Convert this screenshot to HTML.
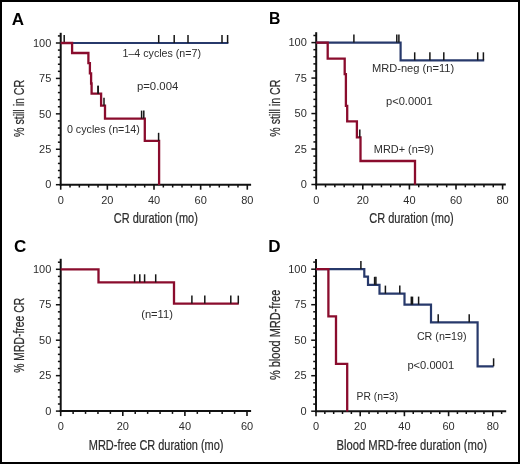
<!DOCTYPE html>
<html><head><meta charset="utf-8"><style>
html,body{margin:0;padding:0;background:#fff;}
body{width:520px;height:464px;overflow:hidden;}
svg{display:block;will-change:transform;}
text{font-family:"Liberation Sans",sans-serif;}
.tl{font-size:11px;fill:#2d2d2d;}
.an{font-size:10.7px;fill:#2d2d2d;}
.tt{font-size:14.2px;fill:#2d2d2d;stroke:#2d2d2d;stroke-width:0.22px;}
.pl{font-size:17px;font-weight:bold;fill:#000;}
</style></head><body>
<svg width="520" height="464" viewBox="0 0 520 464">
<rect x="0" y="0" width="520" height="464" fill="#fff"/>
<line x1="60.7" y1="32.8" x2="60.7" y2="185.7" stroke="#111111" stroke-width="2"/>
<line x1="59.7" y1="184.7" x2="251.1" y2="184.7" stroke="#111111" stroke-width="2"/>
<line x1="55.9" y1="184.7" x2="60.7" y2="184.7" stroke="#111111" stroke-width="1.5"/>
<text x="51.3" y="188.4" class="tl" text-anchor="end">0</text>
<line x1="57.9" y1="177.61" x2="60.7" y2="177.61" stroke="#111111" stroke-width="1.5"/>
<line x1="57.9" y1="170.53" x2="60.7" y2="170.53" stroke="#111111" stroke-width="1.5"/>
<line x1="57.9" y1="163.44" x2="60.7" y2="163.44" stroke="#111111" stroke-width="1.5"/>
<line x1="57.9" y1="156.36" x2="60.7" y2="156.36" stroke="#111111" stroke-width="1.5"/>
<line x1="55.9" y1="149.27" x2="60.7" y2="149.27" stroke="#111111" stroke-width="1.5"/>
<text x="51.3" y="152.97" class="tl" text-anchor="end">25</text>
<line x1="57.9" y1="142.19" x2="60.7" y2="142.19" stroke="#111111" stroke-width="1.5"/>
<line x1="57.9" y1="135.1" x2="60.7" y2="135.1" stroke="#111111" stroke-width="1.5"/>
<line x1="57.9" y1="128.02" x2="60.7" y2="128.02" stroke="#111111" stroke-width="1.5"/>
<line x1="57.9" y1="120.94" x2="60.7" y2="120.94" stroke="#111111" stroke-width="1.5"/>
<line x1="55.9" y1="113.85" x2="60.7" y2="113.85" stroke="#111111" stroke-width="1.5"/>
<text x="51.3" y="117.55" class="tl" text-anchor="end">50</text>
<line x1="57.9" y1="106.77" x2="60.7" y2="106.77" stroke="#111111" stroke-width="1.5"/>
<line x1="57.9" y1="99.68" x2="60.7" y2="99.68" stroke="#111111" stroke-width="1.5"/>
<line x1="57.9" y1="92.59" x2="60.7" y2="92.59" stroke="#111111" stroke-width="1.5"/>
<line x1="57.9" y1="85.51" x2="60.7" y2="85.51" stroke="#111111" stroke-width="1.5"/>
<line x1="55.9" y1="78.42" x2="60.7" y2="78.42" stroke="#111111" stroke-width="1.5"/>
<text x="51.3" y="82.12" class="tl" text-anchor="end">75</text>
<line x1="57.9" y1="71.34" x2="60.7" y2="71.34" stroke="#111111" stroke-width="1.5"/>
<line x1="57.9" y1="64.26" x2="60.7" y2="64.26" stroke="#111111" stroke-width="1.5"/>
<line x1="57.9" y1="57.17" x2="60.7" y2="57.17" stroke="#111111" stroke-width="1.5"/>
<line x1="57.9" y1="50.09" x2="60.7" y2="50.09" stroke="#111111" stroke-width="1.5"/>
<line x1="55.9" y1="43" x2="60.7" y2="43" stroke="#111111" stroke-width="1.5"/>
<text x="51.3" y="46.7" class="tl" text-anchor="end">100</text>
<line x1="57.9" y1="35.92" x2="60.7" y2="35.92" stroke="#111111" stroke-width="1.5"/>
<line x1="60.7" y1="184.7" x2="60.7" y2="189.7" stroke="#111111" stroke-width="1.6"/>
<text x="60.7" y="203.7" class="tl" text-anchor="middle">0</text>
<line x1="70.03" y1="184.7" x2="70.03" y2="187.5" stroke="#111111" stroke-width="1.5"/>
<line x1="79.36" y1="184.7" x2="79.36" y2="187.5" stroke="#111111" stroke-width="1.5"/>
<line x1="88.69" y1="184.7" x2="88.69" y2="187.5" stroke="#111111" stroke-width="1.5"/>
<line x1="98.02" y1="184.7" x2="98.02" y2="187.5" stroke="#111111" stroke-width="1.5"/>
<line x1="107.35" y1="184.7" x2="107.35" y2="189.7" stroke="#111111" stroke-width="1.6"/>
<text x="107.35" y="203.7" class="tl" text-anchor="middle">20</text>
<line x1="116.68" y1="184.7" x2="116.68" y2="187.5" stroke="#111111" stroke-width="1.5"/>
<line x1="126.01" y1="184.7" x2="126.01" y2="187.5" stroke="#111111" stroke-width="1.5"/>
<line x1="135.34" y1="184.7" x2="135.34" y2="187.5" stroke="#111111" stroke-width="1.5"/>
<line x1="144.67" y1="184.7" x2="144.67" y2="187.5" stroke="#111111" stroke-width="1.5"/>
<line x1="154" y1="184.7" x2="154" y2="189.7" stroke="#111111" stroke-width="1.6"/>
<text x="154" y="203.7" class="tl" text-anchor="middle">40</text>
<line x1="163.33" y1="184.7" x2="163.33" y2="187.5" stroke="#111111" stroke-width="1.5"/>
<line x1="172.66" y1="184.7" x2="172.66" y2="187.5" stroke="#111111" stroke-width="1.5"/>
<line x1="181.99" y1="184.7" x2="181.99" y2="187.5" stroke="#111111" stroke-width="1.5"/>
<line x1="191.32" y1="184.7" x2="191.32" y2="187.5" stroke="#111111" stroke-width="1.5"/>
<line x1="200.65" y1="184.7" x2="200.65" y2="189.7" stroke="#111111" stroke-width="1.6"/>
<text x="200.65" y="203.7" class="tl" text-anchor="middle">60</text>
<line x1="209.98" y1="184.7" x2="209.98" y2="187.5" stroke="#111111" stroke-width="1.5"/>
<line x1="219.31" y1="184.7" x2="219.31" y2="187.5" stroke="#111111" stroke-width="1.5"/>
<line x1="228.64" y1="184.7" x2="228.64" y2="187.5" stroke="#111111" stroke-width="1.5"/>
<line x1="237.97" y1="184.7" x2="237.97" y2="187.5" stroke="#111111" stroke-width="1.5"/>
<line x1="247.3" y1="184.7" x2="247.3" y2="189.7" stroke="#111111" stroke-width="1.6"/>
<text x="247.3" y="203.7" class="tl" text-anchor="middle">80</text>
<path d="M60.7 43 H228.4" fill="none" stroke="#27396b" stroke-width="2.2" stroke-linejoin="miter" stroke-linecap="butt"/>
<line x1="64.2" y1="35" x2="64.2" y2="43" stroke="#161616" stroke-width="1.5"/>
<line x1="158.7" y1="35" x2="158.7" y2="43" stroke="#161616" stroke-width="1.5"/>
<line x1="174.2" y1="35" x2="174.2" y2="43" stroke="#161616" stroke-width="1.5"/>
<line x1="188" y1="35" x2="188" y2="43" stroke="#161616" stroke-width="1.5"/>
<line x1="222" y1="35" x2="222" y2="43" stroke="#161616" stroke-width="1.5"/>
<line x1="227.6" y1="35" x2="227.6" y2="43" stroke="#161616" stroke-width="1.5"/>
<path d="M60.7 43 H72.1 V53 H88.4 V63.2 H89.9 V73.4 H91.1 V83.5 H91.6 V93.7 H101.1 V105.7 H105 V118.6 H144.8 V140.8 H159.1 V185" fill="none" stroke="#8a0c2d" stroke-width="2.3" stroke-linejoin="miter" stroke-linecap="butt"/>
<line x1="98.1" y1="85.7" x2="98.1" y2="93.7" stroke="#161616" stroke-width="1.5"/>
<line x1="98.1" y1="85.7" x2="98.1" y2="93.7" stroke="#161616" stroke-width="1.5"/>
<line x1="104" y1="97.7" x2="104" y2="105.7" stroke="#161616" stroke-width="1.5"/>
<line x1="141.6" y1="110.6" x2="141.6" y2="118.6" stroke="#161616" stroke-width="1.5"/>
<line x1="143.8" y1="110.6" x2="143.8" y2="118.6" stroke="#161616" stroke-width="1.5"/>
<line x1="158.6" y1="132.8" x2="158.6" y2="140.8" stroke="#161616" stroke-width="1.5"/>
<text x="11.8" y="24.5" class="pl" text-anchor="start">A</text>
<text x="122.5" y="56.9" class="an" text-anchor="start" textLength="78.5" lengthAdjust="spacingAndGlyphs">1–4 cycles (n=7)</text>
<text x="136.9" y="90.4" class="an" text-anchor="start" textLength="41.4" lengthAdjust="spacingAndGlyphs">p=0.004</text>
<text x="66.9" y="133.2" class="an" text-anchor="start" textLength="73" lengthAdjust="spacingAndGlyphs">0 cycles (n=14)</text>
<text x="113.8" y="223.3" class="tt" text-anchor="start" textLength="84" lengthAdjust="spacingAndGlyphs">CR duration (mo)</text>
<text transform="translate(24,108.4) rotate(-90)" x="0" y="0" class="tt" text-anchor="middle" textLength="57.2" lengthAdjust="spacingAndGlyphs">% still in CR</text>
<line x1="316.2" y1="32.2" x2="316.2" y2="185.5" stroke="#111111" stroke-width="2"/>
<line x1="315.2" y1="184.5" x2="505.8" y2="184.5" stroke="#111111" stroke-width="2"/>
<line x1="311.4" y1="184.5" x2="316.2" y2="184.5" stroke="#111111" stroke-width="1.5"/>
<text x="306.8" y="188.2" class="tl" text-anchor="end">0</text>
<line x1="313.4" y1="177.41" x2="316.2" y2="177.41" stroke="#111111" stroke-width="1.5"/>
<line x1="313.4" y1="170.31" x2="316.2" y2="170.31" stroke="#111111" stroke-width="1.5"/>
<line x1="313.4" y1="163.22" x2="316.2" y2="163.22" stroke="#111111" stroke-width="1.5"/>
<line x1="313.4" y1="156.12" x2="316.2" y2="156.12" stroke="#111111" stroke-width="1.5"/>
<line x1="311.4" y1="149.03" x2="316.2" y2="149.03" stroke="#111111" stroke-width="1.5"/>
<text x="306.8" y="152.72" class="tl" text-anchor="end">25</text>
<line x1="313.4" y1="141.93" x2="316.2" y2="141.93" stroke="#111111" stroke-width="1.5"/>
<line x1="313.4" y1="134.84" x2="316.2" y2="134.84" stroke="#111111" stroke-width="1.5"/>
<line x1="313.4" y1="127.74" x2="316.2" y2="127.74" stroke="#111111" stroke-width="1.5"/>
<line x1="313.4" y1="120.64" x2="316.2" y2="120.64" stroke="#111111" stroke-width="1.5"/>
<line x1="311.4" y1="113.55" x2="316.2" y2="113.55" stroke="#111111" stroke-width="1.5"/>
<text x="306.8" y="117.25" class="tl" text-anchor="end">50</text>
<line x1="313.4" y1="106.45" x2="316.2" y2="106.45" stroke="#111111" stroke-width="1.5"/>
<line x1="313.4" y1="99.36" x2="316.2" y2="99.36" stroke="#111111" stroke-width="1.5"/>
<line x1="313.4" y1="92.27" x2="316.2" y2="92.27" stroke="#111111" stroke-width="1.5"/>
<line x1="313.4" y1="85.17" x2="316.2" y2="85.17" stroke="#111111" stroke-width="1.5"/>
<line x1="311.4" y1="78.08" x2="316.2" y2="78.08" stroke="#111111" stroke-width="1.5"/>
<text x="306.8" y="81.78" class="tl" text-anchor="end">75</text>
<line x1="313.4" y1="70.98" x2="316.2" y2="70.98" stroke="#111111" stroke-width="1.5"/>
<line x1="313.4" y1="63.88" x2="316.2" y2="63.88" stroke="#111111" stroke-width="1.5"/>
<line x1="313.4" y1="56.79" x2="316.2" y2="56.79" stroke="#111111" stroke-width="1.5"/>
<line x1="313.4" y1="49.69" x2="316.2" y2="49.69" stroke="#111111" stroke-width="1.5"/>
<line x1="311.4" y1="42.6" x2="316.2" y2="42.6" stroke="#111111" stroke-width="1.5"/>
<text x="306.8" y="46.3" class="tl" text-anchor="end">100</text>
<line x1="313.4" y1="35.5" x2="316.2" y2="35.5" stroke="#111111" stroke-width="1.5"/>
<line x1="316.2" y1="184.5" x2="316.2" y2="189.5" stroke="#111111" stroke-width="1.6"/>
<text x="316.2" y="203.5" class="tl" text-anchor="middle">0</text>
<line x1="325.52" y1="184.5" x2="325.52" y2="187.3" stroke="#111111" stroke-width="1.5"/>
<line x1="334.84" y1="184.5" x2="334.84" y2="187.3" stroke="#111111" stroke-width="1.5"/>
<line x1="344.16" y1="184.5" x2="344.16" y2="187.3" stroke="#111111" stroke-width="1.5"/>
<line x1="353.48" y1="184.5" x2="353.48" y2="187.3" stroke="#111111" stroke-width="1.5"/>
<line x1="362.8" y1="184.5" x2="362.8" y2="189.5" stroke="#111111" stroke-width="1.6"/>
<text x="362.8" y="203.5" class="tl" text-anchor="middle">20</text>
<line x1="372.12" y1="184.5" x2="372.12" y2="187.3" stroke="#111111" stroke-width="1.5"/>
<line x1="381.44" y1="184.5" x2="381.44" y2="187.3" stroke="#111111" stroke-width="1.5"/>
<line x1="390.76" y1="184.5" x2="390.76" y2="187.3" stroke="#111111" stroke-width="1.5"/>
<line x1="400.08" y1="184.5" x2="400.08" y2="187.3" stroke="#111111" stroke-width="1.5"/>
<line x1="409.4" y1="184.5" x2="409.4" y2="189.5" stroke="#111111" stroke-width="1.6"/>
<text x="409.4" y="203.5" class="tl" text-anchor="middle">40</text>
<line x1="418.72" y1="184.5" x2="418.72" y2="187.3" stroke="#111111" stroke-width="1.5"/>
<line x1="428.04" y1="184.5" x2="428.04" y2="187.3" stroke="#111111" stroke-width="1.5"/>
<line x1="437.36" y1="184.5" x2="437.36" y2="187.3" stroke="#111111" stroke-width="1.5"/>
<line x1="446.68" y1="184.5" x2="446.68" y2="187.3" stroke="#111111" stroke-width="1.5"/>
<line x1="456" y1="184.5" x2="456" y2="189.5" stroke="#111111" stroke-width="1.6"/>
<text x="456" y="203.5" class="tl" text-anchor="middle">60</text>
<line x1="465.32" y1="184.5" x2="465.32" y2="187.3" stroke="#111111" stroke-width="1.5"/>
<line x1="474.64" y1="184.5" x2="474.64" y2="187.3" stroke="#111111" stroke-width="1.5"/>
<line x1="483.96" y1="184.5" x2="483.96" y2="187.3" stroke="#111111" stroke-width="1.5"/>
<line x1="493.28" y1="184.5" x2="493.28" y2="187.3" stroke="#111111" stroke-width="1.5"/>
<line x1="502.6" y1="184.5" x2="502.6" y2="189.5" stroke="#111111" stroke-width="1.6"/>
<text x="502.6" y="203.5" class="tl" text-anchor="middle">80</text>
<path d="M316.2 42.6 H400.6 V60.3 H484.2" fill="none" stroke="#27396b" stroke-width="2.2" stroke-linejoin="miter" stroke-linecap="butt"/>
<line x1="353.9" y1="34.6" x2="353.9" y2="42.6" stroke="#161616" stroke-width="1.5"/>
<line x1="396.8" y1="34.6" x2="396.8" y2="42.6" stroke="#161616" stroke-width="1.5"/>
<line x1="398.9" y1="34.6" x2="398.9" y2="42.6" stroke="#161616" stroke-width="1.5"/>
<line x1="414.7" y1="52.3" x2="414.7" y2="60.3" stroke="#161616" stroke-width="1.5"/>
<line x1="429.9" y1="52.3" x2="429.9" y2="60.3" stroke="#161616" stroke-width="1.5"/>
<line x1="443.8" y1="52.3" x2="443.8" y2="60.3" stroke="#161616" stroke-width="1.5"/>
<line x1="477.7" y1="52.3" x2="477.7" y2="60.3" stroke="#161616" stroke-width="1.5"/>
<line x1="483.4" y1="52.3" x2="483.4" y2="60.3" stroke="#161616" stroke-width="1.5"/>
<path d="M316.2 42.6 H327.7 V58.7 H344.7 V74.2 H345.9 V105.8 H347.2 V121.4 H356.9 V137.4 H360.5 V161 H415 V184.8" fill="none" stroke="#8a0c2d" stroke-width="2.3" stroke-linejoin="miter" stroke-linecap="butt"/>
<line x1="359.8" y1="129.4" x2="359.8" y2="137.4" stroke="#161616" stroke-width="1.5"/>
<text x="268.9" y="23.6" class="pl" text-anchor="start" textLength="11.4" lengthAdjust="spacingAndGlyphs">B</text>
<text x="371.9" y="71.9" class="an" text-anchor="start" textLength="82.3" lengthAdjust="spacingAndGlyphs">MRD-neg (n=11)</text>
<text x="386" y="104.6" class="an" text-anchor="start" textLength="46.7" lengthAdjust="spacingAndGlyphs">p&lt;0.0001</text>
<text x="373.8" y="153.4" class="an" text-anchor="start" textLength="60" lengthAdjust="spacingAndGlyphs">MRD+ (n=9)</text>
<text x="369.2" y="223.3" class="tt" text-anchor="start" textLength="84.5" lengthAdjust="spacingAndGlyphs">CR duration (mo)</text>
<text transform="translate(279.6,108.2) rotate(-90)" x="0" y="0" class="tt" text-anchor="middle" textLength="57" lengthAdjust="spacingAndGlyphs">% still in CR</text>
<line x1="60.7" y1="258.8" x2="60.7" y2="412.1" stroke="#111111" stroke-width="2"/>
<line x1="59.7" y1="411.1" x2="251.1" y2="411.1" stroke="#111111" stroke-width="2"/>
<line x1="55.9" y1="411.1" x2="60.7" y2="411.1" stroke="#111111" stroke-width="1.5"/>
<text x="51.3" y="414.8" class="tl" text-anchor="end">0</text>
<line x1="57.9" y1="404.01" x2="60.7" y2="404.01" stroke="#111111" stroke-width="1.5"/>
<line x1="57.9" y1="396.92" x2="60.7" y2="396.92" stroke="#111111" stroke-width="1.5"/>
<line x1="57.9" y1="389.83" x2="60.7" y2="389.83" stroke="#111111" stroke-width="1.5"/>
<line x1="57.9" y1="382.74" x2="60.7" y2="382.74" stroke="#111111" stroke-width="1.5"/>
<line x1="55.9" y1="375.65" x2="60.7" y2="375.65" stroke="#111111" stroke-width="1.5"/>
<text x="51.3" y="379.35" class="tl" text-anchor="end">25</text>
<line x1="57.9" y1="368.56" x2="60.7" y2="368.56" stroke="#111111" stroke-width="1.5"/>
<line x1="57.9" y1="361.47" x2="60.7" y2="361.47" stroke="#111111" stroke-width="1.5"/>
<line x1="57.9" y1="354.38" x2="60.7" y2="354.38" stroke="#111111" stroke-width="1.5"/>
<line x1="57.9" y1="347.29" x2="60.7" y2="347.29" stroke="#111111" stroke-width="1.5"/>
<line x1="55.9" y1="340.2" x2="60.7" y2="340.2" stroke="#111111" stroke-width="1.5"/>
<text x="51.3" y="343.9" class="tl" text-anchor="end">50</text>
<line x1="57.9" y1="333.11" x2="60.7" y2="333.11" stroke="#111111" stroke-width="1.5"/>
<line x1="57.9" y1="326.02" x2="60.7" y2="326.02" stroke="#111111" stroke-width="1.5"/>
<line x1="57.9" y1="318.93" x2="60.7" y2="318.93" stroke="#111111" stroke-width="1.5"/>
<line x1="57.9" y1="311.84" x2="60.7" y2="311.84" stroke="#111111" stroke-width="1.5"/>
<line x1="55.9" y1="304.75" x2="60.7" y2="304.75" stroke="#111111" stroke-width="1.5"/>
<text x="51.3" y="308.45" class="tl" text-anchor="end">75</text>
<line x1="57.9" y1="297.66" x2="60.7" y2="297.66" stroke="#111111" stroke-width="1.5"/>
<line x1="57.9" y1="290.57" x2="60.7" y2="290.57" stroke="#111111" stroke-width="1.5"/>
<line x1="57.9" y1="283.48" x2="60.7" y2="283.48" stroke="#111111" stroke-width="1.5"/>
<line x1="57.9" y1="276.39" x2="60.7" y2="276.39" stroke="#111111" stroke-width="1.5"/>
<line x1="55.9" y1="269.3" x2="60.7" y2="269.3" stroke="#111111" stroke-width="1.5"/>
<text x="51.3" y="273" class="tl" text-anchor="end">100</text>
<line x1="57.9" y1="262.21" x2="60.7" y2="262.21" stroke="#111111" stroke-width="1.5"/>
<line x1="60.7" y1="411.1" x2="60.7" y2="416.1" stroke="#111111" stroke-width="1.6"/>
<text x="60.7" y="430.1" class="tl" text-anchor="middle">0</text>
<line x1="73.12" y1="411.1" x2="73.12" y2="413.9" stroke="#111111" stroke-width="1.5"/>
<line x1="85.54" y1="411.1" x2="85.54" y2="413.9" stroke="#111111" stroke-width="1.5"/>
<line x1="97.96" y1="411.1" x2="97.96" y2="413.9" stroke="#111111" stroke-width="1.5"/>
<line x1="110.38" y1="411.1" x2="110.38" y2="413.9" stroke="#111111" stroke-width="1.5"/>
<line x1="122.8" y1="411.1" x2="122.8" y2="416.1" stroke="#111111" stroke-width="1.6"/>
<text x="122.8" y="430.1" class="tl" text-anchor="middle">20</text>
<line x1="135.22" y1="411.1" x2="135.22" y2="413.9" stroke="#111111" stroke-width="1.5"/>
<line x1="147.64" y1="411.1" x2="147.64" y2="413.9" stroke="#111111" stroke-width="1.5"/>
<line x1="160.06" y1="411.1" x2="160.06" y2="413.9" stroke="#111111" stroke-width="1.5"/>
<line x1="172.48" y1="411.1" x2="172.48" y2="413.9" stroke="#111111" stroke-width="1.5"/>
<line x1="184.9" y1="411.1" x2="184.9" y2="416.1" stroke="#111111" stroke-width="1.6"/>
<text x="184.9" y="430.1" class="tl" text-anchor="middle">40</text>
<line x1="197.32" y1="411.1" x2="197.32" y2="413.9" stroke="#111111" stroke-width="1.5"/>
<line x1="209.74" y1="411.1" x2="209.74" y2="413.9" stroke="#111111" stroke-width="1.5"/>
<line x1="222.16" y1="411.1" x2="222.16" y2="413.9" stroke="#111111" stroke-width="1.5"/>
<line x1="234.58" y1="411.1" x2="234.58" y2="413.9" stroke="#111111" stroke-width="1.5"/>
<line x1="247" y1="411.1" x2="247" y2="416.1" stroke="#111111" stroke-width="1.6"/>
<text x="247" y="430.1" class="tl" text-anchor="middle">60</text>
<path d="M60.7 269.3 H98.5 V282.3 H174 V303.6 H238.8" fill="none" stroke="#8a0c2d" stroke-width="2.3" stroke-linejoin="miter" stroke-linecap="butt"/>
<line x1="134.6" y1="274.3" x2="134.6" y2="282.3" stroke="#161616" stroke-width="1.5"/>
<line x1="139.8" y1="274.3" x2="139.8" y2="282.3" stroke="#161616" stroke-width="1.5"/>
<line x1="144.6" y1="274.3" x2="144.6" y2="282.3" stroke="#161616" stroke-width="1.5"/>
<line x1="155.7" y1="274.3" x2="155.7" y2="282.3" stroke="#161616" stroke-width="1.5"/>
<line x1="191.9" y1="295.6" x2="191.9" y2="303.6" stroke="#161616" stroke-width="1.5"/>
<line x1="204.8" y1="295.6" x2="204.8" y2="303.6" stroke="#161616" stroke-width="1.5"/>
<line x1="230.8" y1="295.6" x2="230.8" y2="303.6" stroke="#161616" stroke-width="1.5"/>
<line x1="238.3" y1="295.6" x2="238.3" y2="303.6" stroke="#161616" stroke-width="1.5"/>
<text x="13.9" y="252" class="pl" text-anchor="start">C</text>
<text x="141.2" y="317.9" class="an" text-anchor="start" textLength="31.7" lengthAdjust="spacingAndGlyphs">(n=11)</text>
<text x="88.8" y="449.8" class="tt" text-anchor="start" textLength="134.7" lengthAdjust="spacingAndGlyphs">MRD-free CR duration (mo)</text>
<text transform="translate(23.8,335.3) rotate(-90)" x="0" y="0" class="tt" text-anchor="middle" textLength="74.9" lengthAdjust="spacingAndGlyphs">% MRD-free CR</text>
<line x1="316" y1="258.9" x2="316" y2="412.2" stroke="#111111" stroke-width="2"/>
<line x1="315" y1="411.2" x2="506.2" y2="411.2" stroke="#111111" stroke-width="2"/>
<line x1="311.2" y1="411.2" x2="316" y2="411.2" stroke="#111111" stroke-width="1.5"/>
<text x="306.6" y="414.9" class="tl" text-anchor="end">0</text>
<line x1="313.2" y1="404.1" x2="316" y2="404.1" stroke="#111111" stroke-width="1.5"/>
<line x1="313.2" y1="397" x2="316" y2="397" stroke="#111111" stroke-width="1.5"/>
<line x1="313.2" y1="389.9" x2="316" y2="389.9" stroke="#111111" stroke-width="1.5"/>
<line x1="313.2" y1="382.8" x2="316" y2="382.8" stroke="#111111" stroke-width="1.5"/>
<line x1="311.2" y1="375.7" x2="316" y2="375.7" stroke="#111111" stroke-width="1.5"/>
<text x="306.6" y="379.4" class="tl" text-anchor="end">25</text>
<line x1="313.2" y1="368.6" x2="316" y2="368.6" stroke="#111111" stroke-width="1.5"/>
<line x1="313.2" y1="361.5" x2="316" y2="361.5" stroke="#111111" stroke-width="1.5"/>
<line x1="313.2" y1="354.4" x2="316" y2="354.4" stroke="#111111" stroke-width="1.5"/>
<line x1="313.2" y1="347.3" x2="316" y2="347.3" stroke="#111111" stroke-width="1.5"/>
<line x1="311.2" y1="340.2" x2="316" y2="340.2" stroke="#111111" stroke-width="1.5"/>
<text x="306.6" y="343.9" class="tl" text-anchor="end">50</text>
<line x1="313.2" y1="333.1" x2="316" y2="333.1" stroke="#111111" stroke-width="1.5"/>
<line x1="313.2" y1="326" x2="316" y2="326" stroke="#111111" stroke-width="1.5"/>
<line x1="313.2" y1="318.9" x2="316" y2="318.9" stroke="#111111" stroke-width="1.5"/>
<line x1="313.2" y1="311.8" x2="316" y2="311.8" stroke="#111111" stroke-width="1.5"/>
<line x1="311.2" y1="304.7" x2="316" y2="304.7" stroke="#111111" stroke-width="1.5"/>
<text x="306.6" y="308.4" class="tl" text-anchor="end">75</text>
<line x1="313.2" y1="297.6" x2="316" y2="297.6" stroke="#111111" stroke-width="1.5"/>
<line x1="313.2" y1="290.5" x2="316" y2="290.5" stroke="#111111" stroke-width="1.5"/>
<line x1="313.2" y1="283.4" x2="316" y2="283.4" stroke="#111111" stroke-width="1.5"/>
<line x1="313.2" y1="276.3" x2="316" y2="276.3" stroke="#111111" stroke-width="1.5"/>
<line x1="311.2" y1="269.2" x2="316" y2="269.2" stroke="#111111" stroke-width="1.5"/>
<text x="306.6" y="272.9" class="tl" text-anchor="end">100</text>
<line x1="313.2" y1="262.1" x2="316" y2="262.1" stroke="#111111" stroke-width="1.5"/>
<line x1="316" y1="411.2" x2="316" y2="416.2" stroke="#111111" stroke-width="1.6"/>
<text x="316" y="430.2" class="tl" text-anchor="middle">0</text>
<line x1="324.84" y1="411.2" x2="324.84" y2="414" stroke="#111111" stroke-width="1.5"/>
<line x1="333.68" y1="411.2" x2="333.68" y2="414" stroke="#111111" stroke-width="1.5"/>
<line x1="342.52" y1="411.2" x2="342.52" y2="414" stroke="#111111" stroke-width="1.5"/>
<line x1="351.36" y1="411.2" x2="351.36" y2="414" stroke="#111111" stroke-width="1.5"/>
<line x1="360.2" y1="411.2" x2="360.2" y2="416.2" stroke="#111111" stroke-width="1.6"/>
<text x="360.2" y="430.2" class="tl" text-anchor="middle">20</text>
<line x1="369.04" y1="411.2" x2="369.04" y2="414" stroke="#111111" stroke-width="1.5"/>
<line x1="377.88" y1="411.2" x2="377.88" y2="414" stroke="#111111" stroke-width="1.5"/>
<line x1="386.72" y1="411.2" x2="386.72" y2="414" stroke="#111111" stroke-width="1.5"/>
<line x1="395.56" y1="411.2" x2="395.56" y2="414" stroke="#111111" stroke-width="1.5"/>
<line x1="404.4" y1="411.2" x2="404.4" y2="416.2" stroke="#111111" stroke-width="1.6"/>
<text x="404.4" y="430.2" class="tl" text-anchor="middle">40</text>
<line x1="413.24" y1="411.2" x2="413.24" y2="414" stroke="#111111" stroke-width="1.5"/>
<line x1="422.08" y1="411.2" x2="422.08" y2="414" stroke="#111111" stroke-width="1.5"/>
<line x1="430.92" y1="411.2" x2="430.92" y2="414" stroke="#111111" stroke-width="1.5"/>
<line x1="439.76" y1="411.2" x2="439.76" y2="414" stroke="#111111" stroke-width="1.5"/>
<line x1="448.6" y1="411.2" x2="448.6" y2="416.2" stroke="#111111" stroke-width="1.6"/>
<text x="448.6" y="430.2" class="tl" text-anchor="middle">60</text>
<line x1="457.44" y1="411.2" x2="457.44" y2="414" stroke="#111111" stroke-width="1.5"/>
<line x1="466.28" y1="411.2" x2="466.28" y2="414" stroke="#111111" stroke-width="1.5"/>
<line x1="475.12" y1="411.2" x2="475.12" y2="414" stroke="#111111" stroke-width="1.5"/>
<line x1="483.96" y1="411.2" x2="483.96" y2="414" stroke="#111111" stroke-width="1.5"/>
<line x1="492.8" y1="411.2" x2="492.8" y2="416.2" stroke="#111111" stroke-width="1.6"/>
<text x="492.8" y="430.2" class="tl" text-anchor="middle">80</text>
<line x1="501.64" y1="411.2" x2="501.64" y2="414" stroke="#111111" stroke-width="1.5"/>
<path d="M316 269.1 H364.3 V276.6 H368 V284.8 H379.5 V293.6 H404.5 V304.6 H431 V322.3 H477.6 V366.3 H493.6" fill="none" stroke="#27396b" stroke-width="2.2" stroke-linejoin="miter" stroke-linecap="butt"/>
<line x1="360.9" y1="261.1" x2="360.9" y2="269.1" stroke="#161616" stroke-width="1.5"/>
<line x1="374.6" y1="276.8" x2="374.6" y2="284.8" stroke="#161616" stroke-width="1.5"/>
<line x1="375.9" y1="276.8" x2="375.9" y2="284.8" stroke="#161616" stroke-width="1.5"/>
<line x1="385.4" y1="285.6" x2="385.4" y2="293.6" stroke="#161616" stroke-width="1.5"/>
<line x1="399.8" y1="285.6" x2="399.8" y2="293.6" stroke="#161616" stroke-width="1.5"/>
<line x1="411.3" y1="296.6" x2="411.3" y2="304.6" stroke="#161616" stroke-width="1.5"/>
<line x1="412.5" y1="296.6" x2="412.5" y2="304.6" stroke="#161616" stroke-width="1.5"/>
<line x1="418.6" y1="296.6" x2="418.6" y2="304.6" stroke="#161616" stroke-width="1.5"/>
<line x1="438.2" y1="314.3" x2="438.2" y2="322.3" stroke="#161616" stroke-width="1.5"/>
<line x1="469.2" y1="314.3" x2="469.2" y2="322.3" stroke="#161616" stroke-width="1.5"/>
<line x1="493.6" y1="358.3" x2="493.6" y2="366.3" stroke="#161616" stroke-width="1.5"/>
<path d="M316 269.2 H328.4 V316.4 H336 V363.8 H347.2 V411.5" fill="none" stroke="#8a0c2d" stroke-width="2.3" stroke-linejoin="miter" stroke-linecap="butt"/>
<text x="268.2" y="251.6" class="pl" text-anchor="start">D</text>
<text x="416.9" y="339.9" class="an" text-anchor="start" textLength="49.7" lengthAdjust="spacingAndGlyphs">CR (n=19)</text>
<text x="407.4" y="369.2" class="an" text-anchor="start" textLength="46.8" lengthAdjust="spacingAndGlyphs">p&lt;0.0001</text>
<text x="356.6" y="400.3" class="an" text-anchor="start" textLength="41.6" lengthAdjust="spacingAndGlyphs">PR (n=3)</text>
<text x="336.5" y="449.8" class="tt" text-anchor="start" textLength="150.4" lengthAdjust="spacingAndGlyphs">Blood MRD-free duration (mo)</text>
<text transform="translate(280,334.9) rotate(-90)" x="0" y="0" class="tt" text-anchor="middle" textLength="90.4" lengthAdjust="spacingAndGlyphs">% blood MRD-free</text>
<rect x="1" y="1" width="518" height="462" fill="none" stroke="#000" stroke-width="2"/>
</svg>
</body></html>
